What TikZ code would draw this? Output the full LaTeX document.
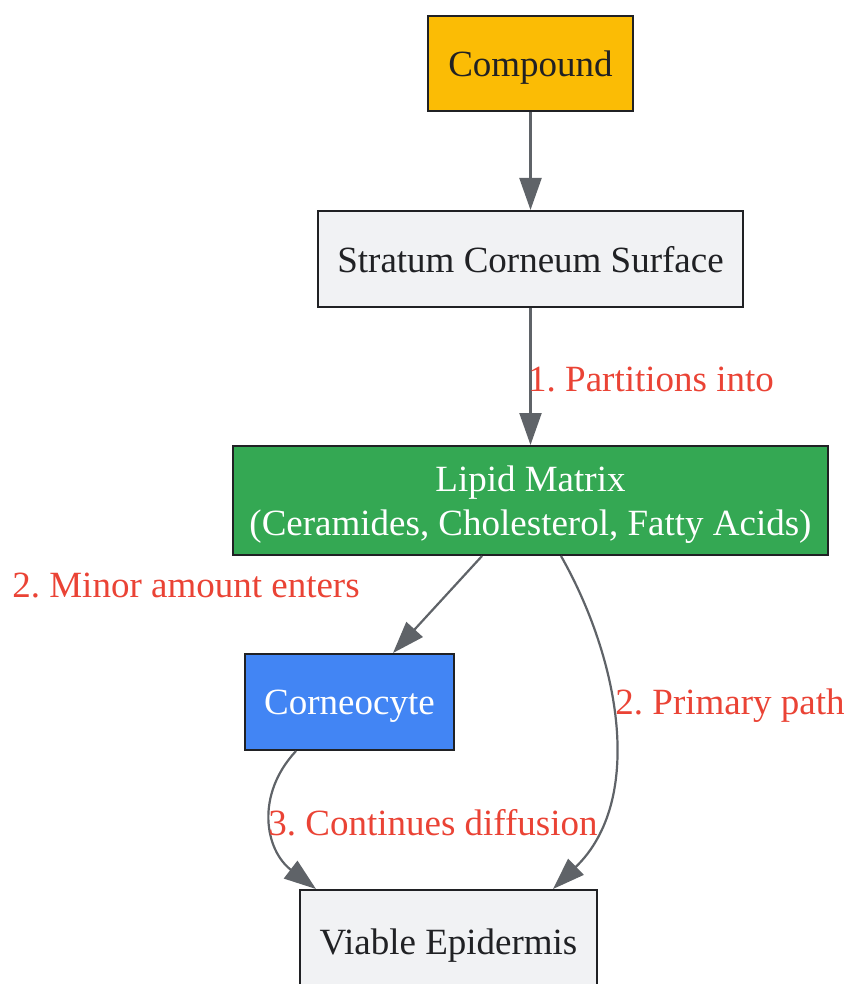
\documentclass[tikz,border=0pt]{standalone}
\usepackage{fontspec}
\setmainfont{Liberation Serif}
\usetikzlibrary{
    arrows.meta,
    positioning
}
\frenchspacing

\definecolor{cyellow}{HTML}{FBBC05}
\definecolor{cgreen}{HTML}{34A853}
\definecolor{cblue}{HTML}{4285F4}
\definecolor{cgrey}{HTML}{F1F2F4}
\definecolor{cline}{HTML}{5F6368}
\definecolor{cred}{HTML}{EA4335}
\definecolor{cdark}{HTML}{202124}

\tikzset{
    box/.style={draw=cdark, line width=2pt, inner sep=0pt, align=center, text depth=0pt,
        text=cdark, font=\fontsize{37}{44}\selectfont},
    flow/.style={draw=cline, line width=2.2pt, -{Triangle[length=32pt, width=22pt]}},
    lbl/.style={text=cred, inner sep=0pt, font=\fontsize{37}{44}\selectfont}
}

\begin{document}
\begin{tikzpicture}[x=1pt, y=-1pt]

\useasboundingbox (0,0) rectangle (849,984);

% nodes
\node[box, fill=cyellow, minimum width=205pt, minimum height=95pt] (compound) at (530.5,63.5) {Compound};
\node[box, fill=cgrey, minimum width=425pt, minimum height=96pt] (surface) at (530.5,259) {Stratum Corneum Surface};
\node[box, fill=cgreen, text=white, minimum width=595pt, minimum height=109pt] (lipid) at (530.5,500.5)
    {Lipid Matrix\\(Ceramides, Cholesterol, Fatty Acids)};
\node[box, fill=cblue, text=white, minimum width=209pt, minimum height=96pt] (cell) at (349.5,702) {Corneocyte};
\node[box, fill=cgrey, minimum width=297pt, minimum height=104pt] (viable) at (448.5,942) {Viable Epidermis};

% connectors
\draw[flow] (compound.south) -- (surface.north);
\draw[flow] (surface.south) -- (lipid.north);
\draw[flow] (lipid.south -| 482,0) -- (cell.north -| 393,0);
\draw[flow] (lipid.south -| 561,0) .. controls (620,660) and (645,800) .. (viable.north -| 553,0);
\draw[flow] (cell.south -| 296,0) .. controls (255,795) and (265,850) .. (viable.north -| 316,0);

% edge labels
\node[lbl, anchor=west] (partition) at (528,380) {1. Partitions into};
\node[lbl] (minor) at (186,586) {2. Minor amount enters};
\node[lbl] (primary) at (730,706) {2. Primary path};
\node[lbl] (diffusion) at (433,823) {3. Continues diffusion};

\end{tikzpicture}
\end{document}
